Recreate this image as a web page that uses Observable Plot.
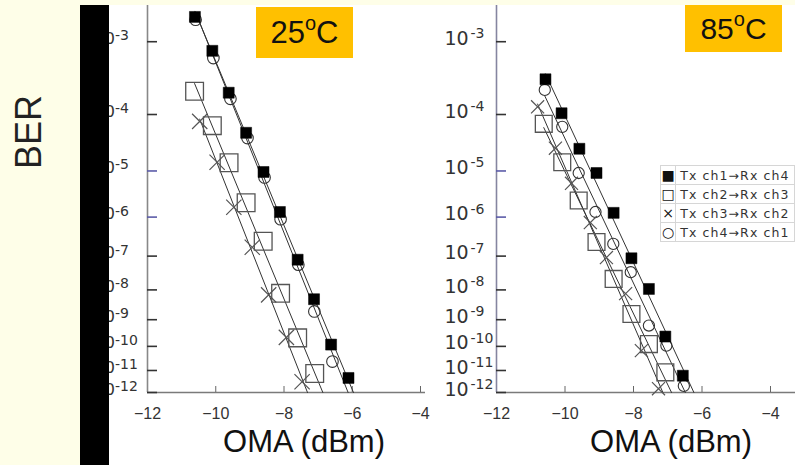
<!DOCTYPE html>
<html><head><meta charset="utf-8">
<script src="https://cdn.jsdelivr.net/npm/d3@7"></script>
<script src="https://cdn.jsdelivr.net/npm/@observablehq/plot@0.6"></script>
<style>
html,body{margin:0;padding:0;}
body{width:795px;height:465px;background:#fefee8;position:relative;overflow:hidden;font-family:"Liberation Sans",Arial,sans-serif;}
#white{position:absolute;left:108px;top:5px;width:687px;height:460px;background:#fff;}
#bar{position:absolute;left:80px;top:5px;width:29px;height:460px;background:#000;z-index:5;}
.panel{position:absolute;top:0;z-index:2;}
#ber{position:absolute;left:29px;top:132px;transform:translate(-50%,-50%) rotate(-90deg);font-size:36px;color:#222;white-space:nowrap;}
.temp{position:absolute;background:#ffc000;color:#111;z-index:4;display:flex;align-items:center;justify-content:center;line-height:1;}
.temp sup{font-size:20px;vertical-align:baseline;position:relative;top:-10px;line-height:1;}
#legend{position:absolute;left:660px;top:165px;z-index:4;border-collapse:collapse;background:#fff;font-family:"DejaVu Sans",sans-serif;font-size:12.5px;color:#333;}
#legend td{border:1px solid #d6d6d6;height:18px;padding:0;}
#legend td.s{width:22px;text-align:center;font-size:14px;color:#111;}
#legend td.t{padding-left:4px;letter-spacing:1.1px;white-space:nowrap;width:150px;}
</style></head>
<body>
<div id="white"></div>
<div id="ber">BER</div>
<div id="left" class="panel" style="left:60px"></div>
<div id="right" class="panel" style="left:410px"></div>
<div id="bar"></div>
<div class="temp" style="left:256px;top:7px;width:97px;height:51px;font-size:31px;">25<sup>o</sup>C</div>
<div class="temp" style="left:685px;top:5px;width:97px;height:47px;font-size:30px;">85<sup>o</sup>C</div>
<table id="legend"></table>
<script>
// ---- data: OMA (dBm) and -log10(BER) ----
const categories = ["Tx ch1→Rx ch4", "Tx ch2→Rx ch3", "Tx ch3→Rx ch2", "Tx ch4→Rx ch1"];
const legendSymbols = ["■", "□", "×", "○"];
const temps = ["25", "85"];

const oma25_ch1 = [-10.61, -10.10, -9.62, -9.11, -8.60, -8.12, -7.60, -7.12, -6.62, -6.11];
const nlb25_ch1 = [2.72, 3.11, 3.67, 4.30, 5.02, 5.88, 7.10, 8.30, 9.93, 11.33];
const oma25_ch2 = [-10.62, -10.10, -9.61, -9.11, -8.61, -8.10, -7.60, -7.10];
const nlb25_ch2 = [3.65, 4.18, 4.84, 5.67, 6.60, 8.11, 9.67, 11.13];
const oma25_ch3 = [-10.47, -9.96, -9.47, -8.93, -8.45, -7.93, -7.47];
const nlb25_ch3 = [4.11, 4.83, 5.77, 6.76, 8.16, 9.65, 11.5];
const oma25_ch4 = [-10.59, -10.07, -9.57, -9.07, -8.57, -8.10, -7.58, -7.11, -6.58];
const nlb25_ch4 = [2.75, 3.20, 3.76, 4.39, 5.13, 6.05, 7.24, 8.71, 10.62];

const oma85_ch1 = [-10.57, -10.10, -9.58, -9.08, -8.58, -8.06, -7.55, -7.07, -6.56];
const nlb85_ch1 = [3.48, 3.98, 4.58, 5.04, 5.90, 7.06, 7.97, 9.62, 11.23];
const oma85_ch2 = [-10.62, -10.08, -9.60, -9.08, -8.58, -8.06, -7.55, -7.07];
const nlb85_ch2 = [4.15, 4.83, 5.62, 6.62, 7.66, 8.80, 9.91, 11.08];
const oma85_ch3 = [-10.80, -10.28, -9.81, -9.26, -8.79, -8.23, -7.77, -7.27];
const nlb85_ch3 = [3.88, 4.57, 5.25, 6.13, 7.04, 8.12, 10.17, 11.82];
const oma85_ch4 = [-10.59, -10.08, -9.60, -9.11, -8.59, -8.08, -7.55, -7.04, -6.53];
const nlb85_ch4 = [3.63, 4.20, 5.04, 5.88, 6.67, 7.46, 9.21, 9.97, 11.69];

const xTicks = [-12, -10, -8, -6, -4];
const yTickExp = [3, 4, 5, 6, 7, 8, 9, 10, 11, 12];
const xDomain = [-12, -4];
const yDomain = [2.6, 12];
const xTitle = "OMA (dBm)";

// ---- helpers ----
const pts = (xs, ys) => xs.map((x, i) => ({x, y: ys[i]}));
function fitLine(xs, ys) {
  const n = xs.length, ly = ys.map(Math.log10);
  const mx = d3.mean(xs), my = d3.mean(ly);
  let sxy = 0, sxx = 0;
  for (let i = 0; i < n; i++) { sxy += (xs[i]-mx)*(ly[i]-my); sxx += (xs[i]-mx)**2; }
  const b = sxy / sxx, a = my - b*mx;
  const yEnd = yDomain[1];
  const xEnd = (Math.log10(yEnd) - a) / b;
  return [{x: xs[0], y: 10 ** (a + b*xs[0])}, {x: xEnd, y: yEnd}];
}

function panel(S, o) {
  const W = o.width, H = 465, mt = 5, mb = 73;
  const plotW = W - o.ml - o.mr, plotH = H - mt - mb;
  const ff = "'Liberation Sans', Arial, sans-serif";
  const marks = [
    Plot.ruleX([xDomain[0]], {stroke: o.axisColor, strokeWidth: 1.6}),
    Plot.ruleY([yDomain[1]], {stroke: "#7a7a7a", strokeWidth: 1.6, insetRight: -o.extend}),
    Plot.tickY(yTickExp.filter(d => d !== 5 && d !== 6), {y: d => d, stroke: "#333", strokeWidth: 1.6, insetRight: plotW - 10}),
    Plot.tickY(yTickExp.filter(d => d === 5 || d === 6), {y: d => d, stroke: "#5b5ba8", strokeWidth: 1.6, insetRight: plotW - 10}),
    Plot.tickX(xTicks.slice(1), {x: d => d, stroke: "#666", strokeWidth: 1, insetTop: plotH - 6}),
    Plot.axisX(xTicks, {tickSize: 0, tickPadding: 15, fontSize: 16, fill: "#333", label: null, fontFamily: ff}),
    Plot.text(yTickExp, {y: d => d, text: d => "10", frameAnchor: "left", textAnchor: "start", dx: o.ldx, dy: o.ldy, fontSize: o.lfs, fill: "#333", fontFamily: "'DejaVu Sans', sans-serif"}),
    Plot.text(yTickExp, {y: d => d, text: d => "-" + d, frameAnchor: "left", textAnchor: "start", dx: o.sdx, dy: o.sdy, fontSize: 14, fill: "#333", fontFamily: "'DejaVu Sans', sans-serif"}),
    Plot.text([xTitle], {frameAnchor: "bottom", lineAnchor: "middle", dy: 50, dx: o.tdx, fontSize: 31, fill: "#111", fontFamily: ff}),
  ];
  // fitted lines
  for (const s of S) marks.push(Plot.line(fitLine(s[0], s[1]), {x: "x", y: "y", stroke: "#333", strokeWidth: 1}));
  // markers
  marks.push(Plot.dot(pts(S[3][0], S[3][1]), {x: "x", y: "y", symbol: "circle", r: o.rc, fill: "none", stroke: "#333", strokeWidth: 1.1}));
  marks.push(Plot.dot(pts(S[2][0], S[2][1]), {x: "x", y: "y", symbol: "times", r: o.rx, stroke: "#555", strokeWidth: 1.2}));
  marks.push(Plot.dot(pts(S[1][0], S[1][1]), {x: "x", y: "y", symbol: "square", r: o.rs, fill: "none", stroke: "#555", strokeWidth: 1.3}));
  marks.push(Plot.dot(pts(S[0][0], S[0][1]), {x: "x", y: "y", symbol: "square", r: 6.2, fill: "#000", stroke: "#000", strokeWidth: 0.5}));
  return Plot.plot({
    width: W, height: H, marginLeft: o.ml, marginRight: o.mr, marginTop: mt, marginBottom: mb,
    x: {domain: xDomain, axis: null, label: null},
    y: {type: "log", domain: yDomain, reverse: true, axis: null, label: null},
    style: {background: "transparent", overflow: "visible", fontFamily: ff},
    marks
  });
}

document.getElementById("left").append(panel(
  [[oma25_ch1, nlb25_ch1], [oma25_ch2, nlb25_ch2], [oma25_ch3, nlb25_ch3], [oma25_ch4, nlb25_ch4]],
  {width: 380, ml: 87, mr: 20, extend: 5, axisColor: "#888", ldx: -53, ldy: -3, lfs: 16, sdx: -32.5, sdy: -6, tdx: 20, rc: 5.8, rx: 7, rs: 10}
));
document.getElementById("right").append(panel(
  [[oma85_ch1, nlb85_ch1], [oma85_ch2, nlb85_ch2], [oma85_ch3, nlb85_ch3], [oma85_ch4, nlb85_ch4]],
  {width: 385, ml: 86, mr: 25, extend: 25, axisColor: "#8585a0", ldx: -52, ldy: -3, lfs: 19, sdx: -26, sdy: -8, tdx: 37.5, rc: 5.6, rx: 6, rs: 9.5}
));

// legend
const lg = d3.select("#legend");
categories.forEach((c, i) => {
  const tr = lg.append("tr");
  tr.append("td").attr("class", "s").text(legendSymbols[i]);
  tr.append("td").attr("class", "t").text(c);
});
</script>
</body></html>
